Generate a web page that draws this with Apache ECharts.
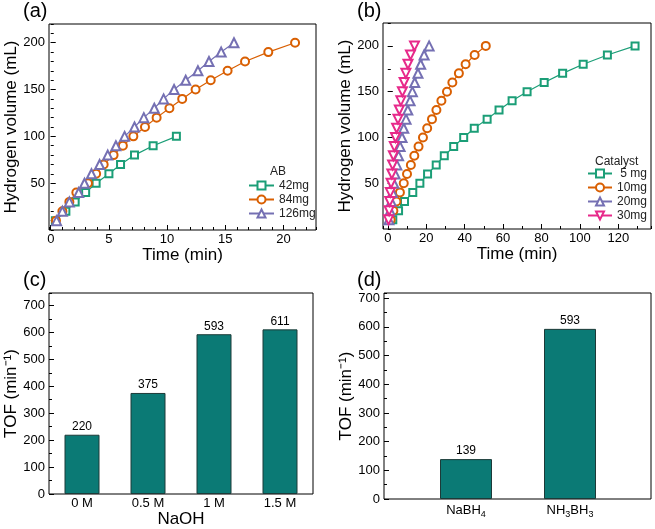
<!DOCTYPE html>
<html><head><meta charset="utf-8">
<script src="https://cdn.jsdelivr.net/npm/echarts@6/dist/echarts.min.js"></script>
<style>html,body{margin:0;padding:0;background:#fff}#c{width:655px;height:529px}</style>
</head><body><div id="c"></div>
<script>
// ---- data ----
const volumes = [10,20,30,40,50,60,70,80,90,100,110,120,130,140,150,160,170,180,190,200];
const ab42Time  = [0.4,1.3,2.1,3.0,3.9,5.0,6.0,7.2,8.8,10.8];
const ab84Time  = [0.45,1.0,1.6,2.2,3.2,3.9,4.55,5.4,6.2,7.1,8.1,9.1,10.2,11.3,12.45,13.75,15.2,16.7,18.7,21.0];
const ab126Time = [0.5,1.0,1.6,2.4,2.9,3.5,4.2,4.9,5.6,6.35,7.2,8.0,8.9,9.7,10.6,11.6,12.65,13.6,14.65,15.75];
const cat5Time  = [2.6,5.6,8.7,13.0,16.7,20.7,25.2,29.4,34.3,39.5,45.0,51.7,57.9,64.7,72.5,81.4,91.0,101.7,114.3,128.7];
const cat10Time = [1.5,2.9,4.5,6.3,8.3,10.0,12.0,13.8,16.0,18.3,20.5,23.0,25.3,27.9,30.8,33.6,37.0,40.5,45.2,51.0];
const cat20Time = [0.6,1.2,1.8,2.4,3.1,3.8,4.7,5.6,6.4,7.4,8.3,9.5,10.4,11.6,12.8,14.0,15.7,17.1,18.9,21.5];
const cat30Time = [0.4,0.7,1.0,1.3,1.7,2.1,2.5,2.9,3.4,4.0,4.6,5.3,6.0,6.8,7.6,8.5,9.4,10.5,11.8,13.9];
const abNames = ['42mg','84mg','126mg'];
const catNames = [' 5 mg','10mg','20mg','30mg'];
const naohCats = ['0 M','0.5 M','1 M','1.5 M'];
const naohTOF = [220,375,593,611];
const hydCats = ['NaBH4','NH3BH3'];
const hydTOF = [139,593];

// ---- styling ----
const FONT = 'Liberation Sans, Arial, sans-serif';
const GREEN='#1b9e77', ORANGE='#d95f02', PURPLE='#7570b3', PINK='#e7298a';
const BAR='#0b7a75';
const pair = (ts) => ts.map((t,i)=>[t, volumes[i]]);

function mainVal(grid, min, max, extra) {
  return Object.assign({
    type:'value', gridIndex:grid, min:min, max:max,
    axisLine:{show:false}, splitLine:{show:false},
    axisTick:{show:true, inside:true, length:5, lineStyle:{color:'#000', width:1}},
    axisLabel:{color:'#000', fontSize:13, fontFamily:FONT, showMinLabel:false, showMaxLabel:false},
    nameTextStyle:{color:'#000', fontSize:17, fontFamily:FONT}
  }, extra);
}
function minorVal(grid, min, max, extra) {
  return Object.assign({
    type:'value', gridIndex:grid, min:min, max:max,
    axisLine:{show:false}, splitLine:{show:false},
    axisTick:{show:true, inside:true, length:3, lineStyle:{color:'#000', width:1}},
    axisLabel:{show:false}
  }, extra);
}
function lineSeries(name, data, sym, color, xi, yi, size, rot) {
  return {type:'line', name:name, data:data, xAxisIndex:xi, yAxisIndex:yi,
    symbol:sym, symbolSize:size, symbolRotate:rot||0, color:color,
    lineStyle:{color:color, width:1.2}, itemStyle:{color:color, borderColor:color, borderWidth:1.4},
    showAllSymbol:true, z:3};
}
const gridBase = {show:true, borderColor:'#000', borderWidth:1, backgroundColor:'transparent', containLabel:false};

const option = {
  animation:false,
  backgroundColor:'#fff',
  textStyle:{fontFamily:FONT},
  grid:[
    Object.assign({left:49, top:24, width:267, height:206}, gridBase),
    Object.assign({left:383, top:23, width:268, height:206}, gridBase),
    Object.assign({left:49, top:293, width:264, height:207}, gridBase),
    Object.assign({left:384, top:293, width:267, height:206}, gridBase),
    {left:414, top:293, width:208, height:206, show:false}
  ],
  xAxis:[
    mainVal(0, -0.15, 22.8, {splitNumber:5, position:'bottom', name:'Time (min)', nameLocation:'middle', nameGap:16, axisLabel:{color:'#000', fontSize:13, fontFamily:FONT, margin:3, showMinLabel:false, showMaxLabel:false}}),
    minorVal(0, -0.15, 22.8, {splitNumber:23, position:'bottom'}),
    mainVal(1, -2.5, 137, {splitNumber:7, position:'bottom', name:'Time (min)', nameLocation:'middle', nameGap:16, axisLabel:{color:'#000', fontSize:13, fontFamily:FONT, margin:3, showMinLabel:false, showMaxLabel:false}}),
    minorVal(1, -2.5, 137, {splitNumber:14, position:'bottom'}),
    {type:'category', gridIndex:2, data:naohCats, position:'bottom',
      axisLine:{show:false}, axisTick:{show:false}, splitLine:{show:false},
      axisLabel:{color:'#000', fontSize:13, fontFamily:FONT, margin:3, interval:0},
      name:'NaOH', nameLocation:'middle', nameGap:17, nameTextStyle:{color:'#000', fontSize:17, fontFamily:FONT}},
    {type:'value', gridIndex:3, min:0, max:1, show:false},
    {type:'category', gridIndex:4, data:hydCats, position:'bottom',
      axisLine:{show:false}, axisTick:{show:false}, splitLine:{show:false},
      axisLabel:{color:'#000', fontSize:13, fontFamily:FONT, margin:2, interval:0, hideOverlap:false,
        formatter:(v)=>v.replace(/([A-Za-z]+)/g,'{n|$1}').replace(/(\d)/g,'{s|$1}'),
        rich:{n:{fontSize:13, fontFamily:FONT, color:'#000'}, s:{fontSize:9, fontFamily:FONT, color:'#000', verticalAlign:'bottom', lineHeight:18}}}}
  ],
  yAxis:[
    mainVal(0, 0, 220, {interval:50, position:'left', name:'Hydrogen volume (mL)', nameLocation:'middle', nameGap:26, axisLabel:{color:'#000', fontSize:13, fontFamily:FONT, margin:4, showMinLabel:false, showMaxLabel:false}}),
    minorVal(0, 0, 220, {interval:10, position:'left'}),
    mainVal(1, 0, 225, {interval:50, position:'left', name:'Hydrogen volume (mL)', nameLocation:'middle', nameGap:27, axisLabel:{color:'#000', fontSize:13, fontFamily:FONT, margin:4, showMinLabel:false, showMaxLabel:false}}),
    minorVal(1, 0, 225, {interval:25, position:'left'}),
    mainVal(2, 0, 746, {interval:100, position:'left', name:'TOF (min\u207B\u00B9)', nameLocation:'middle', nameGap:27, axisLabel:{color:'#000', fontSize:13, fontFamily:FONT, margin:4, showMinLabel:true, showMaxLabel:false}}),
    minorVal(2, 0, 746, {interval:50, position:'left'}),
    mainVal(3, 0, 718, {interval:100, position:'left', name:'TOF (min\u207B\u00B9)', nameLocation:'middle', nameGap:28, axisLabel:{color:'#000', fontSize:13, fontFamily:FONT, margin:4, showMinLabel:true, showMaxLabel:false}}),
    minorVal(3, 0, 718, {interval:50, position:'left'}),
    {type:'value', gridIndex:4, min:0, max:718, show:false}
  ],
  legend:[
    {data:abNames, orient:'vertical', left:248, top:179, padding:0, itemWidth:25, itemHeight:10, itemGap:1,
      textStyle:{fontSize:12, lineHeight:13, color:'#222', fontFamily:FONT}, selectedMode:false},
    {data:catNames, orient:'vertical', left:587, top:167, padding:0, itemWidth:24, itemHeight:10, itemGap:1,
      textStyle:{fontSize:12, lineHeight:13, color:'#222', fontFamily:FONT}, selectedMode:false}
  ],
  graphic:[
    {type:'text', left:23, top:1, style:{text:'(a)', fontSize:20, fontFamily:FONT, fill:'#000'}},
    {type:'text', left:357, top:1, style:{text:'(b)', fontSize:20, fontFamily:FONT, fill:'#000'}},
    {type:'text', left:23, top:270, style:{text:'(c)', fontSize:20, fontFamily:FONT, fill:'#000'}},
    {type:'text', left:357, top:270, style:{text:'(d)', fontSize:20, fontFamily:FONT, fill:'#000'}},
    {type:'text', left:270, top:166, style:{text:'AB', fontSize:12, fontFamily:FONT, fill:'#222'}},
    {type:'text', left:595, top:156, style:{text:'Catalyst', fontSize:12, fontFamily:FONT, fill:'#222'}}
  ],
  series:[
    lineSeries(abNames[0], pair(ab42Time), 'emptyRect', GREEN, 0, 0, 7),
    lineSeries(abNames[1], pair(ab84Time), 'emptyCircle', ORANGE, 0, 0, 8),
    lineSeries(abNames[2], pair(ab126Time), 'emptyTriangle', PURPLE, 0, 0, 9),
    lineSeries(catNames[0], pair(cat5Time), 'emptyRect', GREEN, 2, 2, 7),
    lineSeries(catNames[1], pair(cat10Time), 'emptyCircle', ORANGE, 2, 2, 8),
    lineSeries(catNames[2], pair(cat20Time), 'emptyTriangle', PURPLE, 2, 2, 9),
    lineSeries(catNames[3], pair(cat30Time), 'emptyTriangle', PINK, 2, 2, 9, 180),
    {type:'bar', xAxisIndex:4, yAxisIndex:4, data:naohTOF, barWidth:35,
      itemStyle:{color:BAR, borderColor:'#1d3a38', borderWidth:1},
      label:{show:true, position:'top', distance:2, color:'#000', fontSize:12, fontFamily:FONT}},
    {type:'bar', xAxisIndex:6, yAxisIndex:8, data:hydTOF, barWidth:52,
      itemStyle:{color:BAR, borderColor:'#1d3a38', borderWidth:1},
      label:{show:true, position:'top', distance:2, color:'#000', fontSize:12, fontFamily:FONT}}
  ]
};
const chart = echarts.init(document.getElementById('c'), null, {renderer:'canvas'});
chart.setOption(option);
</script>
</body></html>
